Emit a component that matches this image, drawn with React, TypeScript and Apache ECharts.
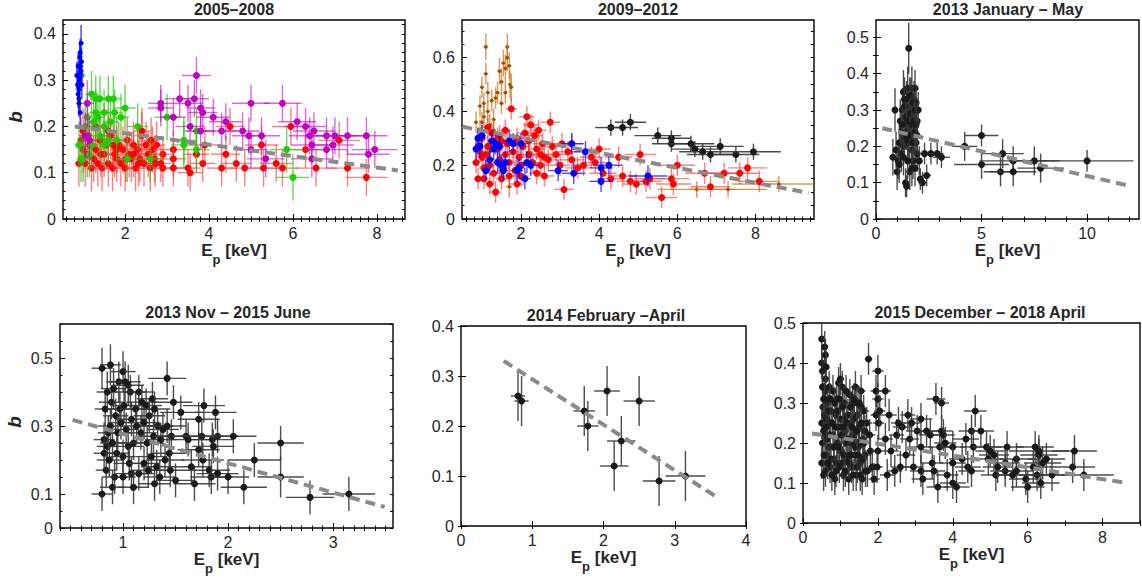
import React, { useEffect, useRef } from "react";
import * as echarts from "echarts";

const FONT = '"Liberation Sans", Arial, Helvetica, sans-serif';

// ---------- data: [Ep, b, Ep error, b error] ----------
const p1Red = [
  [0.9,0.12,0.1,0.05],[0.95,0.17,0.1,0.05],[1.0,0.15,0.1,0.05],[1.05,0.12,0.12,0.05],[1.1,0.14,0.12,0.05],[1.15,0.16,0.12,0.05],[1.2,0.11,0.12,0.05],[1.25,0.13,0.12,0.05],[1.3,0.15,0.15,0.05],[1.35,0.12,0.15,0.05],[1.4,0.17,0.15,0.05],[1.45,0.11,0.15,0.05],[1.5,0.14,0.15,0.05],[1.55,0.16,0.15,0.05],[1.6,0.12,0.15,0.05],[1.65,0.18,0.15,0.05],[1.7,0.11,0.15,0.05],[1.75,0.14,0.15,0.05],[1.8,0.13,0.15,0.05],[1.85,0.16,0.15,0.05],[1.9,0.12,0.15,0.05],[1.95,0.15,0.15,0.05],[2.0,0.11,0.18,0.05],[2.05,0.17,0.18,0.05],[2.1,0.14,0.18,0.05],[2.15,0.13,0.18,0.05],[2.2,0.16,0.18,0.05],[2.25,0.11,0.18,0.05],[2.3,0.15,0.18,0.05],[2.35,0.13,0.18,0.05],[2.4,0.18,0.18,0.05],[2.45,0.12,0.18,0.05],[2.5,0.16,0.2,0.05],[2.55,0.14,0.2,0.05],[2.6,0.11,0.2,0.05],[2.65,0.15,0.2,0.05],[2.7,0.13,0.2,0.05],[2.75,0.16,0.2,0.05],[1.3,0.20,0.15,0.05],[1.6,0.19,0.15,0.05],[2.4,0.19,0.2,0.05],[1.0,0.19,0.1,0.05],[1.8,0.15,0.15,0.05],[2.2,0.14,0.2,0.05],[1.12,0.18,0.12,0.05],[1.42,0.14,0.15,0.05],[1.72,0.16,0.15,0.05],[2.02,0.13,0.18,0.05],[2.32,0.12,0.18,0.05],[2.62,0.17,0.2,0.05],[2.72,0.12,0.2,0.05],[2.9,0.14,0.25,0.04],[2.85,0.12,0.25,0.04],[2.9,0.11,0.25,0.04],[3.15,0.15,0.3,0.04],[3.15,0.13,0.3,0.04],[3.15,0.11,0.3,0.04],[3.5,0.11,0.3,0.04],[3.55,0.10,0.3,0.04],[3.7,0.14,0.3,0.04],[3.85,0.12,0.3,0.04],[3.9,0.16,0.35,0.04],[4.3,0.11,0.35,0.04],[4.4,0.14,0.35,0.04],[4.5,0.20,0.35,0.04],[4.65,0.12,0.35,0.04],[4.85,0.11,0.4,0.04],[5.25,0.16,0.4,0.04],[5.3,0.11,0.4,0.04],[5.6,0.12,0.4,0.04],[5.75,0.11,0.4,0.04],[5.95,0.20,0.45,0.04],[6.3,0.15,0.45,0.04],[6.55,0.11,0.5,0.04],[7.1,0.17,0.5,0.04],[7.3,0.11,0.5,0.04],[7.75,0.09,0.5,0.04]
];
const p1Green = [
  [0.9,0.29,0.1,0.05],[0.95,0.31,0.1,0.05],[0.9,0.16,0.1,0.05],[0.95,0.13,0.1,0.05],[1.0,0.13,0.12,0.05],[1.1,0.22,0.12,0.05],[1.2,0.27,0.15,0.05],[1.3,0.26,0.15,0.05],[1.4,0.26,0.15,0.05],[1.25,0.21,0.15,0.05],[1.35,0.22,0.15,0.05],[1.5,0.23,0.2,0.05],[1.6,0.26,0.2,0.05],[1.72,0.26,0.2,0.05],[1.75,0.23,0.2,0.05],[1.5,0.20,0.2,0.05],[1.4,0.18,0.15,0.05],[1.6,0.17,0.2,0.05],[1.8,0.17,0.2,0.05],[1.9,0.22,0.2,0.05],[2.0,0.24,0.25,0.05],[2.05,0.13,0.25,0.05],[2.3,0.20,0.25,0.05],[2.6,0.13,0.3,0.05],[3.0,0.22,0.3,0.05],[3.4,0.17,0.3,0.05],[3.4,0.16,0.3,0.05],[3.7,0.15,0.3,0.05],[3.7,0.19,0.3,0.05],[5.85,0.15,0.4,0.05],[6.0,0.09,0.4,0.05],[1.2,0.16,0.15,0.05],[1.5,0.16,0.2,0.05],[1.05,0.20,0.12,0.05],[1.15,0.14,0.12,0.05],[1.65,0.21,0.2,0.05],[1.3,0.23,0.15,0.05]
];
const p1Magenta = [
  [1.05,0.18,0.15,0.05],[1.1,0.25,0.15,0.05],[1.15,0.17,0.15,0.05],[2.85,0.25,0.3,0.04],[2.85,0.24,0.3,0.04],[3.15,0.22,0.3,0.04],[3.3,0.26,0.35,0.04],[3.5,0.25,0.35,0.04],[3.55,0.20,0.35,0.04],[3.65,0.26,0.35,0.04],[3.7,0.31,0.35,0.04],[3.8,0.24,0.35,0.04],[3.85,0.23,0.35,0.04],[3.8,0.19,0.35,0.04],[4.1,0.22,0.4,0.04],[4.3,0.19,0.4,0.04],[4.4,0.21,0.4,0.04],[4.8,0.19,0.4,0.04],[4.95,0.18,0.4,0.04],[5.0,0.15,0.4,0.04],[5.0,0.25,0.45,0.04],[5.25,0.18,0.45,0.04],[5.35,0.13,0.45,0.04],[5.75,0.25,0.45,0.04],[6.1,0.21,0.45,0.04],[6.3,0.20,0.5,0.04],[6.4,0.18,0.5,0.04],[6.45,0.16,0.5,0.04],[6.5,0.19,0.5,0.04],[6.45,0.13,0.5,0.04],[6.8,0.18,0.5,0.04],[6.8,0.15,0.5,0.04],[6.95,0.16,0.5,0.04],[7.0,0.18,0.5,0.04],[7.3,0.18,0.5,0.04],[7.75,0.18,0.5,0.04],[7.8,0.14,0.5,0.04],[7.95,0.15,0.55,0.04]
];
const p1Blue = [
  [0.85,0.31,0.04,0.03],[0.87,0.29,0.04,0.03],[0.88,0.33,0.04,0.03],[0.9,0.28,0.04,0.03],[0.9,0.25,0.04,0.03],[0.92,0.35,0.04,0.03],[0.93,0.36,0.04,0.03],[0.95,0.38,0.04,0.04],[0.95,0.32,0.04,0.03],[0.92,0.30,0.04,0.03],[0.9,0.26,0.04,0.03],[0.97,0.29,0.04,0.03],[0.93,0.23,0.04,0.03],[0.96,0.34,0.04,0.03],[0.88,0.27,0.04,0.03],[0.94,0.33,0.03,0.03],[0.91,0.31,0.03,0.03]
];
const p1Fit = [[0.8,0.2],[8.5,0.105]];

const p2Brown = [
  [0.85,0.36,0.06,0.04],[0.9,0.30,0.06,0.04],[0.95,0.42,0.06,0.04],[1.0,0.49,0.06,0.04],[1.05,0.43,0.06,0.04],[1.05,0.38,0.06,0.04],[1.1,0.64,0.06,0.05],[1.1,0.54,0.06,0.04],[1.15,0.47,0.06,0.04],[1.15,0.40,0.06,0.04],[1.2,0.35,0.06,0.04],[1.25,0.44,0.06,0.04],[1.3,0.37,0.06,0.04],[1.35,0.45,0.06,0.04],[1.4,0.47,0.06,0.04],[1.45,0.55,0.06,0.05],[1.5,0.51,0.06,0.05],[1.55,0.58,0.06,0.05],[1.6,0.56,0.06,0.05],[1.65,0.64,0.06,0.05],[1.65,0.60,0.06,0.05],[1.7,0.57,0.06,0.05],[1.72,0.50,0.06,0.05],[1.75,0.49,0.06,0.05],[1.6,0.47,0.06,0.04],[1.5,0.43,0.06,0.04],[1.3,0.33,0.06,0.04],[0.95,0.33,0.06,0.04],[1.0,0.36,0.06,0.04],[1.7,0.12,0.08,0.04],[1.4,0.30,0.06,0.04],[1.9,0.28,0.08,0.04],[2.2,0.25,0.1,0.04],[6.5,0.11,1.0,0.03],[7.3,0.11,1.0,0.03],[8.6,0.13,1.2,0.03],[1.2,0.25,0.06,0.04],[1.45,0.20,0.06,0.04]
];
const p2Red = [
  [0.85,0.21,0.1,0.04],[0.9,0.15,0.1,0.04],[0.95,0.25,0.1,0.04],[1.0,0.30,0.12,0.04],[1.05,0.19,0.12,0.04],[1.1,0.24,0.12,0.04],[1.15,0.27,0.12,0.04],[1.2,0.20,0.12,0.04],[1.25,0.32,0.15,0.04],[1.3,0.17,0.15,0.04],[1.35,0.10,0.15,0.04],[1.4,0.26,0.15,0.04],[1.45,0.22,0.15,0.04],[1.5,0.29,0.15,0.04],[1.55,0.19,0.15,0.04],[1.6,0.24,0.15,0.04],[1.65,0.28,0.15,0.04],[1.7,0.21,0.15,0.04],[1.75,0.41,0.15,0.04],[1.8,0.25,0.15,0.04],[1.85,0.18,0.15,0.04],[1.9,0.30,0.2,0.04],[1.95,0.23,0.2,0.04],[2.0,0.20,0.2,0.04],[2.05,0.27,0.2,0.04],[2.1,0.32,0.2,0.04],[2.15,0.38,0.2,0.04],[2.2,0.24,0.2,0.04],[2.25,0.35,0.2,0.04],[2.3,0.21,0.2,0.04],[2.35,0.31,0.2,0.04],[2.4,0.26,0.2,0.04],[2.45,0.33,0.2,0.04],[2.5,0.20,0.25,0.04],[2.55,0.28,0.25,0.04],[2.6,0.23,0.25,0.04],[2.7,0.22,0.25,0.04],[2.75,0.36,0.25,0.04],[2.8,0.27,0.25,0.04],[2.9,0.24,0.25,0.04],[3.0,0.20,0.25,0.04],[3.05,0.28,0.25,0.04],[3.1,0.11,0.25,0.04],[3.2,0.25,0.3,0.04],[3.3,0.22,0.3,0.04],[3.45,0.19,0.3,0.04],[3.6,0.20,0.3,0.04],[3.8,0.23,0.3,0.04],[3.9,0.21,0.3,0.04],[4.0,0.26,0.3,0.04],[4.1,0.17,0.35,0.04],[4.3,0.15,0.35,0.04],[4.5,0.23,0.35,0.04],[4.6,0.16,0.35,0.04],[4.8,0.14,0.35,0.04],[4.95,0.13,0.35,0.04],[5.05,0.24,0.4,0.04],[5.2,0.14,0.4,0.04],[5.3,0.15,0.4,0.04],[5.6,0.08,0.4,0.04],[5.85,0.15,0.45,0.04],[5.9,0.13,0.45,0.04],[6.0,0.20,0.45,0.04],[6.7,0.17,0.5,0.04],[6.85,0.12,0.5,0.04],[7.2,0.17,0.5,0.04],[7.6,0.17,0.5,0.04],[7.8,0.19,0.5,0.04],[8.1,0.14,0.5,0.04],[1.2,0.13,0.12,0.04],[1.5,0.15,0.15,0.04],[2.4,0.17,0.2,0.04],[1.0,0.23,0.12,0.04],[1.9,0.13,0.2,0.04],[0.9,0.27,0.1,0.04],[1.3,0.29,0.15,0.04],[1.6,0.33,0.15,0.04],[2.0,0.16,0.2,0.04],[2.6,0.16,0.25,0.04],[3.3,0.28,0.3,0.04],[1.15,0.34,0.12,0.04],[1.45,0.31,0.15,0.04],[1.7,0.16,0.15,0.04],[2.2,0.29,0.2,0.04],[2.5,0.24,0.25,0.04],[1.05,0.15,0.12,0.04]
];
const p2Blue = [
  [0.85,0.26,0.08,0.04],[0.9,0.30,0.08,0.04],[0.95,0.27,0.08,0.04],[1.0,0.31,0.1,0.04],[1.1,0.18,0.1,0.04],[1.2,0.22,0.1,0.04],[1.25,0.29,0.1,0.04],[1.3,0.26,0.1,0.04],[1.35,0.28,0.1,0.04],[1.4,0.21,0.12,0.04],[1.45,0.27,0.12,0.04],[1.5,0.20,0.12,0.04],[1.55,0.18,0.12,0.04],[1.6,0.21,0.12,0.04],[1.7,0.29,0.15,0.04],[1.8,0.28,0.15,0.04],[1.9,0.18,0.15,0.04],[2.0,0.28,0.15,0.04],[2.1,0.15,0.15,0.04],[2.15,0.21,0.15,0.04],[2.25,0.20,0.2,0.04],[2.95,0.18,0.25,0.04],[3.3,0.28,0.3,0.04],[3.35,0.17,0.3,0.04],[3.65,0.25,0.3,0.04],[4.05,0.19,0.3,0.04],[4.05,0.14,0.3,0.04],[4.25,0.20,0.35,0.04],[5.25,0.16,0.5,0.04],[1.95,0.19,0.15,0.04]
];
const p2Black = [
  [4.3,0.34,0.4,0.03],[4.6,0.34,0.4,0.03],[4.8,0.36,0.4,0.03],[5.5,0.31,0.6,0.03],[5.85,0.30,0.5,0.03],[5.85,0.28,0.5,0.03],[6.35,0.28,0.6,0.03],[6.45,0.26,0.6,0.03],[6.65,0.25,0.6,0.03],[6.85,0.24,0.6,0.03],[7.1,0.27,0.6,0.03],[7.5,0.24,0.6,0.03],[7.95,0.25,0.7,0.03]
];
const p2Fit = [[0.5,0.343],[9.36,0.097]];

const p3Black = [
  [0.8,0.17,0.08,0.05],[0.9,0.30,0.08,0.06],[0.95,0.19,0.08,0.05],[1.0,0.13,0.08,0.05],[1.05,0.16,0.08,0.05],[1.1,0.21,0.08,0.05],[1.15,0.27,0.08,0.06],[1.2,0.24,0.08,0.05],[1.25,0.30,0.08,0.06],[1.3,0.35,0.08,0.06],[1.3,0.20,0.08,0.05],[1.35,0.33,0.08,0.06],[1.4,0.26,0.08,0.05],[1.4,0.10,0.08,0.04],[1.45,0.09,0.08,0.03],[1.5,0.36,0.08,0.06],[1.5,0.29,0.08,0.05],[1.55,0.47,0.08,0.07],[1.55,0.22,0.08,0.05],[1.6,0.13,0.08,0.05],[1.6,0.31,0.08,0.05],[1.65,0.25,0.08,0.05],[1.7,0.36,0.08,0.06],[1.7,0.19,0.08,0.05],[1.75,0.28,0.08,0.05],[1.8,0.23,0.08,0.05],[1.8,0.33,0.08,0.05],[1.85,0.36,0.08,0.05],[1.9,0.32,0.08,0.05],[1.9,0.21,0.08,0.05],[1.95,0.27,0.08,0.05],[1.95,0.18,0.08,0.05],[2.0,0.30,0.08,0.05],[1.85,0.14,0.08,0.05],[1.75,0.16,0.08,0.05],[1.2,0.18,0.08,0.05],[1.1,0.15,0.08,0.05],[1.65,0.34,0.08,0.05],
  [1.35,0.31,0.08,0.05],[1.4,0.28,0.08,0.05],[1.45,0.33,0.08,0.05],[1.45,0.24,0.08,0.05],[1.5,0.21,0.08,0.05],[1.55,0.27,0.08,0.05],[1.6,0.34,0.08,0.05],[1.6,0.23,0.08,0.05],[1.65,0.29,0.08,0.05],[1.7,0.26,0.08,0.05],[1.75,0.32,0.08,0.05],[1.75,0.21,0.08,0.05],[1.8,0.27,0.08,0.05],[1.85,0.30,0.08,0.05],[1.85,0.24,0.08,0.05],[1.9,0.26,0.08,0.05],[1.35,0.22,0.08,0.05],[1.25,0.26,0.08,0.05],[1.3,0.17,0.08,0.05],[1.7,0.14,0.08,0.05],[1.5,0.16,0.08,0.05],[1.95,0.23,0.08,0.05],
  [2.3,0.18,0.2,0.03],[2.6,0.18,0.2,0.03],[2.9,0.18,0.3,0.03],[3.1,0.17,0.4,0.03],[4.2,0.20,0.6,0.04],[5.0,0.23,0.8,0.03],[5.0,0.15,1.3,0.04],[5.9,0.13,0.8,0.04],[6.0,0.18,1.0,0.04],[6.5,0.16,1.6,0.04],[6.5,0.13,1.1,0.04],[7.5,0.16,1.2,0.04],[7.8,0.14,1.1,0.04],[10.0,0.16,2.2,0.03],[2.4,0.12,0.2,0.03],[2.2,0.10,0.2,0.03],[2.1,0.11,0.15,0.03],[2.05,0.16,0.15,0.04]
];
const p3Fit = [[0.3,0.25],[12.1,0.09]];

const p4Black = [
  [0.8,0.47,0.1,0.06],[0.8,0.10,0.1,0.05],[0.82,0.26,0.1,0.05],[0.82,0.22,0.1,0.05],[0.83,0.35,0.1,0.05],[0.84,0.17,0.1,0.05],[0.85,0.40,0.1,0.06],[0.85,0.24,0.1,0.05],[0.86,0.28,0.1,0.05],[0.87,0.20,0.12,0.05],[0.88,0.48,0.1,0.06],[0.88,0.30,0.12,0.05],[0.89,0.37,0.12,0.05],[0.9,0.25,0.12,0.05],[0.9,0.12,0.12,0.05],[0.91,0.41,0.12,0.06],[0.92,0.15,0.12,0.05],[0.93,0.33,0.12,0.05],[0.94,0.22,0.12,0.05],[0.95,0.28,0.12,0.05],[0.96,0.43,0.12,0.06],[0.97,0.35,0.12,0.05],[0.98,0.31,0.12,0.05],[1.0,0.46,0.12,0.06],[1.0,0.15,0.12,0.05],[1.0,0.21,0.12,0.05],[1.01,0.36,0.12,0.05],[1.02,0.43,0.15,0.06],[1.03,0.29,0.12,0.05],[1.05,0.24,0.15,0.05],[1.05,0.42,0.15,0.06],[1.06,0.19,0.15,0.05],[1.07,0.40,0.15,0.05],[1.08,0.32,0.15,0.05],[1.08,0.16,0.15,0.05],[1.1,0.25,0.15,0.05],[1.1,0.12,0.15,0.05],[1.12,0.35,0.15,0.05],[1.13,0.30,0.15,0.05],[1.15,0.40,0.15,0.05],[1.15,0.16,0.15,0.05],[1.17,0.28,0.15,0.05],[1.18,0.37,0.15,0.05],[1.2,0.19,0.15,0.05],[1.2,0.31,0.15,0.05],[1.22,0.36,0.15,0.05],[1.23,0.25,0.15,0.05],[1.24,0.17,0.15,0.05],[1.25,0.33,0.15,0.05],[1.27,0.21,0.15,0.05],[1.28,0.38,0.15,0.05],[1.29,0.27,0.15,0.05],[1.3,0.13,0.15,0.05],[1.3,0.35,0.15,0.05],[1.32,0.18,0.15,0.05],[1.33,0.30,0.15,0.05],[1.35,0.15,0.15,0.05],[1.36,0.26,0.15,0.05],[1.38,0.29,0.15,0.05],[1.4,0.20,0.18,0.05],[1.42,0.44,0.18,0.05],[1.42,0.30,0.18,0.05],[1.44,0.22,0.18,0.05],[1.45,0.17,0.18,0.05],[1.46,0.27,0.18,0.05],[1.48,0.37,0.18,0.05],[1.5,0.14,0.18,0.05],[1.55,0.34,0.2,0.05],[1.6,0.27,0.2,0.05],[1.62,0.26,0.2,0.05],[1.65,0.18,0.2,0.05],[1.68,0.13,0.2,0.05],[1.72,0.32,0.2,0.05],[1.72,0.23,0.2,0.05],[1.75,0.27,0.2,0.05],[1.76,0.20,0.2,0.05],[1.77,0.36,0.2,0.05],[1.82,0.17,0.2,0.05],[1.84,0.15,0.2,0.05],[1.85,0.26,0.2,0.05],[1.86,0.24,0.2,0.05],[1.88,0.34,0.2,0.05],[1.9,0.27,0.2,0.05],[1.9,0.16,0.2,0.05],[2.0,0.15,0.2,0.05],[2.05,0.27,0.22,0.05],[2.15,0.12,0.22,0.05],[2.25,0.20,0.25,0.05],[2.5,0.25,0.22,0.05],[2.5,0.15,0.22,0.06],[2.78,0.09,0.23,0.05],[3.15,0.10,0.25,0.05]
];
const p4Fit = [[0.52,0.318],[3.49,0.062]];

const p5Black = [
  [0.8,0.26,0.1,0.05],[0.85,0.25,0.1,0.05],[1.73,0.23,0.15,0.05],[1.78,0.20,0.15,0.05],[2.05,0.27,0.18,0.05],[2.15,0.12,0.2,0.05],[2.25,0.17,0.2,0.05],[2.5,0.25,0.22,0.05],[2.78,0.09,0.23,0.05],[3.15,0.10,0.28,0.05]
];
const p5Fit = [[0.6,0.33],[3.6,0.057]];

const p6Black = [
  [0.5,0.46,0.05,0.04],[0.5,0.40,0.05,0.04],[0.52,0.38,0.05,0.04],[0.53,0.29,0.05,0.04],[0.5,0.25,0.05,0.04],[0.52,0.20,0.05,0.04],[0.5,0.15,0.05,0.04],[0.55,0.12,0.05,0.04],[0.58,0.44,0.05,0.04],[0.6,0.42,0.05,0.04],[0.6,0.36,0.05,0.04],[0.62,0.39,0.05,0.04],[0.6,0.33,0.05,0.04],[0.58,0.27,0.05,0.04],[0.6,0.22,0.05,0.04],[0.62,0.17,0.05,0.04],[0.6,0.13,0.05,0.04],[0.65,0.30,0.08,0.04],[0.7,0.25,0.08,0.04],[0.7,0.19,0.08,0.04],[0.72,0.14,0.08,0.04],[0.75,0.28,0.08,0.04],[0.8,0.33,0.08,0.04],[0.8,0.22,0.08,0.04],[0.82,0.16,0.08,0.04],[0.85,0.11,0.08,0.04],[0.88,0.27,0.08,0.04],[0.9,0.31,0.1,0.04],[0.92,0.20,0.1,0.04],[0.95,0.35,0.1,0.04],[0.97,0.14,0.1,0.04],[1.0,0.36,0.1,0.04],[1.0,0.26,0.1,0.04],[1.02,0.18,0.1,0.04],[1.05,0.34,0.1,0.04],[1.08,0.12,0.1,0.04],[1.1,0.30,0.1,0.04],[1.12,0.23,0.1,0.04],[1.15,0.33,0.1,0.04],[1.18,0.16,0.1,0.04],[1.2,0.27,0.12,0.04],[1.22,0.11,0.12,0.04],[1.25,0.20,0.12,0.04],[1.28,0.25,0.12,0.04],[1.3,0.14,0.12,0.04],[1.32,0.30,0.12,0.04],[1.35,0.22,0.12,0.04],[1.38,0.17,0.12,0.04],[1.4,0.34,0.12,0.04],[1.42,0.12,0.12,0.04],[1.45,0.27,0.12,0.04],[1.48,0.19,0.12,0.04],[1.5,0.24,0.12,0.04],[1.52,0.15,0.12,0.04],[1.55,0.33,0.12,0.04],[1.58,0.11,0.12,0.04],[1.6,0.21,0.12,0.04],[1.62,0.28,0.15,0.04],[1.65,0.17,0.15,0.04],[1.7,0.25,0.15,0.04],[1.72,0.13,0.15,0.04],[1.75,0.41,0.1,0.04],[1.78,0.22,0.15,0.04],[1.8,0.18,0.15,0.04],[1.85,0.14,0.15,0.04],[1.9,0.11,0.15,0.04],[1.95,0.33,0.15,0.04],[1.95,0.27,0.15,0.04],[2.0,0.38,0.15,0.04],[2.0,0.31,0.15,0.04],[2.02,0.25,0.15,0.04],[2.05,0.28,0.15,0.04],[2.0,0.18,0.15,0.04],[1.98,0.14,0.15,0.04],[2.2,0.33,0.15,0.04],[2.2,0.21,0.2,0.04],[2.25,0.12,0.2,0.04],[2.3,0.27,0.2,0.04],[2.35,0.18,0.2,0.04],[2.45,0.13,0.2,0.04],[2.5,0.22,0.2,0.04],[2.55,0.25,0.2,0.04],[2.6,0.14,0.25,0.04],[2.65,0.24,0.25,0.04],[2.75,0.17,0.25,0.04],[2.8,0.27,0.2,0.04],[2.85,0.21,0.25,0.04],[2.9,0.25,0.25,0.04],[2.95,0.14,0.25,0.04],[3.05,0.23,0.3,0.04],[3.15,0.26,0.3,0.04],[3.15,0.19,0.3,0.04],[3.15,0.13,0.3,0.04],[3.2,0.11,0.3,0.04],[3.3,0.23,0.3,0.04],[3.4,0.22,0.3,0.04],[3.45,0.15,0.3,0.04],[3.5,0.13,0.3,0.04],[3.55,0.31,0.25,0.04],[3.6,0.09,0.3,0.04],[3.65,0.19,0.3,0.04],[3.7,0.30,0.2,0.04],[3.7,0.23,0.3,0.04],[3.75,0.22,0.3,0.04],[3.8,0.20,0.3,0.04],[3.85,0.12,0.3,0.04],[4.0,0.19,0.35,0.04],[4.0,0.15,0.35,0.04],[4.0,0.10,0.35,0.04],[4.1,0.09,0.35,0.04],[4.25,0.16,0.35,0.04],[4.35,0.21,0.35,0.04],[4.4,0.14,0.35,0.04],[4.5,0.23,0.35,0.04],[4.5,0.13,0.35,0.04],[4.55,0.19,0.35,0.04],[4.6,0.28,0.3,0.04],[4.75,0.23,0.35,0.04],[4.9,0.19,0.4,0.04],[4.95,0.16,0.4,0.04],[5.0,0.18,0.4,0.04],[5.1,0.17,0.4,0.04],[5.15,0.12,0.4,0.04],[5.2,0.14,0.4,0.04],[5.4,0.15,0.4,0.04],[5.4,0.13,0.4,0.04],[5.45,0.19,0.45,0.04],[5.6,0.12,0.45,0.04],[5.7,0.16,0.45,0.04],[5.7,0.13,0.45,0.04],[5.95,0.11,0.45,0.04],[6.0,0.09,0.45,0.04],[6.15,0.14,0.5,0.04],[6.2,0.19,0.5,0.04],[6.25,0.12,0.5,0.04],[6.3,0.17,0.5,0.04],[6.35,0.10,0.5,0.04],[6.4,0.15,0.5,0.04],[6.5,0.16,0.5,0.04],[6.65,0.12,0.6,0.04],[7.2,0.14,0.6,0.04],[7.25,0.18,0.6,0.04],[7.5,0.12,0.8,0.04],[6.3,0.18,0.8,0.04],
  [0.55,0.31,0.05,0.04],[0.65,0.21,0.06,0.04],[0.75,0.16,0.08,0.04],[0.85,0.30,0.08,0.04],[0.95,0.24,0.1,0.04],[1.05,0.15,0.1,0.04],[1.15,0.20,0.1,0.04],[1.25,0.32,0.12,0.04],[1.35,0.26,0.12,0.04],[1.45,0.14,0.12,0.04],[1.55,0.29,0.12,0.04],[1.65,0.23,0.15,0.04],[0.7,0.34,0.08,0.04],[1.1,0.26,0.1,0.04],[1.3,0.20,0.12,0.04],[1.5,0.20,0.12,0.04],
  [0.52,0.34,0.05,0.04],[0.55,0.23,0.05,0.04],[0.56,0.17,0.05,0.04],[0.58,0.31,0.05,0.04],[0.63,0.26,0.06,0.04],[0.66,0.15,0.06,0.04],[0.68,0.28,0.06,0.04],[0.73,0.22,0.08,0.04],[0.77,0.12,0.08,0.04],[0.78,0.25,0.08,0.04],[0.83,0.19,0.08,0.04],[0.86,0.24,0.08,0.04],[0.9,0.15,0.1,0.04],[0.93,0.28,0.1,0.04],[0.96,0.19,0.1,0.04],[0.98,0.31,0.1,0.04],[1.03,0.22,0.1,0.04],[1.06,0.29,0.1,0.04],[1.09,0.17,0.1,0.04],[1.13,0.13,0.1,0.04],[1.16,0.25,0.1,0.04],[1.2,0.21,0.12,0.04],[1.23,0.15,0.12,0.04],[1.27,0.29,0.12,0.04],[1.31,0.24,0.12,0.04],[1.34,0.12,0.12,0.04],[1.37,0.31,0.12,0.04],[1.4,0.19,0.12,0.04],[1.43,0.23,0.12,0.04],[1.46,0.17,0.12,0.04],[1.5,0.30,0.12,0.04],[1.53,0.12,0.12,0.04],[1.56,0.25,0.12,0.04],[1.6,0.16,0.12,0.04],[1.63,0.20,0.15,0.04],[1.67,0.13,0.15,0.04],[0.62,0.24,0.06,0.04],[0.72,0.31,0.08,0.04],[0.88,0.13,0.08,0.04],[1.07,0.24,0.1,0.04],[1.26,0.17,0.12,0.04],[1.44,0.30,0.12,0.04]
];
const p6Fit = [[0.24,0.224],[8.66,0.10]];

// ---------- tick labels ----------
const p1XLabels = [2, 4, 6, 8];
const p1YLabels = [0, 0.1, 0.2, 0.3, 0.4];
const p2XLabels = [2, 4, 6, 8];
const p2YLabels = [0, 0.2, 0.4, 0.6];
const p3XLabels = [0, 5, 10];
const p3YLabels = [0, 0.1, 0.2, 0.3, 0.4, 0.5];
const p4XLabels = [1, 2, 3];
const p4YLabels = [0, 0.1, 0.3, 0.5];
const p5XLabels = [0, 1, 2, 3, 4];
const p5YLabels = [0, 0.1, 0.2, 0.3, 0.4];
const p6XLabels = [0, 2, 4, 6, 8];
const p6YLabels = [0, 0.1, 0.2, 0.3, 0.4, 0.5];

const titles = [
  "2005\u20132008",
  "2009\u20132012",
  "2013 January \u2013 May",
  "2013 Nov \u2013 2015 June",
  "2014 February \u2013April",
  "2015 December \u2013 2018 April",
];

// ---------- styling / layout ----------
const RED = { color: "#ff0000", err: "rgba(255,40,40,0.6)", r: 3.5 };
const GREEN = { color: "#22cc00", err: "rgba(40,200,20,0.7)", r: 3.5 };
const MAGENTA = { color: "#c000c0", err: "rgba(200,0,200,0.6)", r: 3.5 };
const BLUE1 = { color: "#0000ff", err: "rgba(0,0,255,0.75)", r: 2.5 };
const BLUE = { color: "#0000ff", err: "rgba(0,0,255,0.7)", r: 3.5 };
const BROWN = { color: "#a04f00", err: "rgba(205,115,30,0.75)", r: 1.8 };
const BLACK = { color: "#1a1a1a", err: "rgba(55,55,55,0.9)", r: 3.5 };

function ticks(a: number, b: number, step: number) {
  const out: number[] = [];
  const n = Math.round((b - a) / step);
  for (let i = 0; i <= n; i++) out.push(Math.round((a + i * step) * 1000) / 1000);
  return out;
}

const panels = [
  { grid: { left: 63, top: 20, width: 342, height: 199 }, x: [0.52, 8.67], y: [0, 0.43], xl: p1XLabels, yl: p1YLabels, xm: ticks(0.6, 8.6, 0.2), ym: ticks(0, 0.42, 0.02), groups: [[p1Red, RED], [p1Green, GREEN], [p1Magenta, MAGENTA], [p1Blue, BLUE1]], fit: p1Fit, title: [234, 9], b: [15, 117] },
  { grid: { left: 462, top: 20, width: 352, height: 199 }, x: [0.49, 9.5], y: [0, 0.74], xl: p2XLabels, yl: p2YLabels, xm: ticks(0.6, 9.4, 0.2), ym: ticks(0, 0.7, 0.05), groups: [[p2Brown, BROWN], [p2Red, RED], [p2Blue, BLUE], [p2Black, BLACK]], fit: p2Fit, title: [638, 9], b: null },
  { grid: { left: 876, top: 20, width: 263, height: 199 }, x: [0, 12.46], y: [0, 0.548], xl: p3XLabels, yl: p3YLabels, xm: ticks(0, 12, 1), ym: ticks(0, 0.5, 0.05), groups: [[p3Black, BLACK]], fit: p3Fit, title: [1008, 9], b: null },
  { grid: { left: 60, top: 324, width: 333, height: 204 }, x: [0.4, 3.57], y: [0, 0.6], xl: p4XLabels, yl: p4YLabels, xm: ticks(0.4, 3.5, 0.1), ym: ticks(0, 0.6, 0.05), groups: [[p4Black, BLACK]], fit: p4Fit, title: [228, 312], b: [14, 422] },
  { grid: { left: 461, top: 326, width: 285, height: 200 }, x: [0, 4], y: [0, 0.4], xl: p5XLabels, yl: p5YLabels, xm: [1, 2, 3], ym: [0.1, 0.2, 0.3], groups: [[p5Black, BLACK]], fit: p5Fit, title: [606, 315], b: null },
  { grid: { left: 803, top: 323, width: 337, height: 200 }, x: [0, 9], y: [0, 0.5], xl: p6XLabels, yl: p6YLabels, xm: ticks(0, 9, 1), ym: ticks(0, 0.5, 0.1), groups: [[p6Black, BLACK]], fit: p6Fit, title: [980, 312], b: null },
];

function errRender(st: any) {
  return (params: any, api: any) => {
    const x = api.value(0), y = api.value(1), xe = api.value(2), ye = api.value(3);
    const c = api.coord([x, y]);
    const l = api.coord([x - xe, y]);
    const r = api.coord([x + xe, y]);
    const t = api.coord([x, y + ye]);
    const b = api.coord([x, y - ye]);
    return {
      type: "group",
      children: [
        { type: "line", shape: { x1: l[0], y1: c[1], x2: r[0], y2: c[1] }, style: { stroke: st.err, lineWidth: 1.4 } },
        { type: "line", shape: { x1: c[0], y1: t[1], x2: c[0], y2: b[1] }, style: { stroke: st.err, lineWidth: 1.4 } },
        { type: "circle", shape: { cx: c[0], cy: c[1], r: st.r }, style: { fill: st.color } },
      ],
    };
  };
}

const labelFmt = (v: number) => String(Math.round(v * 100) / 100);

function buildOption() {
  const grid: any[] = [];
  const xAxis: any[] = [];
  const yAxis: any[] = [];
  const series: any[] = [];
  const graphic: any[] = [];
  const labelStyle = { color: "#262626", fontSize: 16, fontFamily: FONT };
  const tickLine = { color: "#000", width: 1 };

  panels.forEach((p, i) => {
    grid.push({ ...p.grid, show: true, borderColor: "#000", borderWidth: 1.4, backgroundColor: "#fff" });
    const base = { type: "value", gridIndex: i, splitLine: { show: false }, axisLine: { show: false } };
    xAxis.push({
      ...base, min: p.x[0], max: p.x[1], position: "bottom",
      axisTick: { show: true, inside: true, length: 5, customValues: p.xl, lineStyle: tickLine },
      axisLabel: { ...labelStyle, margin: 6, customValues: p.xl, formatter: labelFmt },
      name: "{e|E}{s|p}{e| [keV]}", nameLocation: "middle", nameGap: 19,
      nameTextStyle: {
        fontFamily: FONT, fontWeight: "bold", fontSize: 17, color: "#262626",
        rich: {
          e: { fontFamily: FONT, fontWeight: "bold", fontSize: 17, color: "#262626", padding: [0, 0, 7, 0], verticalAlign: "top" },
          s: { fontFamily: FONT, fontWeight: "bold", fontSize: 13, color: "#262626", verticalAlign: "bottom" },
        },
      },
    });
    xAxis.push({
      ...base, min: p.x[0], max: p.x[1], position: "bottom",
      axisTick: { show: true, inside: true, length: 2.5, customValues: p.xm, lineStyle: tickLine },
      axisLabel: { show: false },
    });
    xAxis.push({
      ...base, min: p.x[0], max: p.x[1], position: "top",
      axisTick: { show: true, inside: true, length: 3, customValues: [...p.xm, ...p.xl], lineStyle: tickLine },
      axisLabel: { show: false },
    });
    yAxis.push({
      ...base, min: p.y[0], max: p.y[1], position: "left",
      axisTick: { show: true, inside: true, length: 5, customValues: p.yl, lineStyle: tickLine },
      axisLabel: { ...labelStyle, margin: 7, customValues: p.yl, formatter: labelFmt },
    });
    yAxis.push({
      ...base, min: p.y[0], max: p.y[1], position: "left",
      axisTick: { show: true, inside: true, length: 2.5, customValues: p.ym, lineStyle: tickLine },
      axisLabel: { show: false },
    });
    yAxis.push({
      ...base, min: p.y[0], max: p.y[1], position: "right",
      axisTick: { show: true, inside: true, length: 3, customValues: [...p.ym, ...p.yl], lineStyle: tickLine },
      axisLabel: { show: false },
    });

    p.groups.forEach((g: any, k: number) => {
      series.push({
        type: "custom",
        xAxisIndex: 3 * i,
        yAxisIndex: 3 * i,
        data: g[0],
        encode: { x: 0, y: 1 },
        clip: true,
        silent: true,
        z: 2 + k * 0.01,
        renderItem: errRender(g[1]),
      });
    });
    series.push({
      type: "line",
      xAxisIndex: 3 * i,
      yAxisIndex: 3 * i,
      data: p.fit,
      symbol: "none",
      silent: true,
      z: 5,
      lineStyle: { color: "#8a8a8a", width: 4, type: [10, 6] },
    });

    graphic.push({
      type: "text", x: p.title[0], y: p.title[1], silent: true,
      style: { text: titles[i], fill: "#262626", fontFamily: FONT, fontWeight: "bold", fontSize: 16, align: "center", verticalAlign: "middle" },
    });
    if (p.b) {
      graphic.push({
        type: "text", x: p.b[0], y: p.b[1], rotation: Math.PI / 2, silent: true,
        style: { text: "b", fill: "#262626", fontFamily: FONT, fontWeight: "bold", fontStyle: "italic", fontSize: 19, align: "center", verticalAlign: "middle" },
      });
    }
  });

  return { animation: false, backgroundColor: "#fff", grid, xAxis, yAxis, series, graphic };
}

export default function App() {
  const ref = useRef<HTMLDivElement>(null);
  useEffect(() => {
    if (!ref.current) return;
    const chart = echarts.init(ref.current, null, { renderer: "svg" });
    chart.setOption(buildOption() as any);
    return () => chart.dispose();
  }, []);
  return <div ref={ref} style={{ position: "absolute", left: 0, top: 0, width: 1142, height: 585, background: "#fff" }} />;
}
